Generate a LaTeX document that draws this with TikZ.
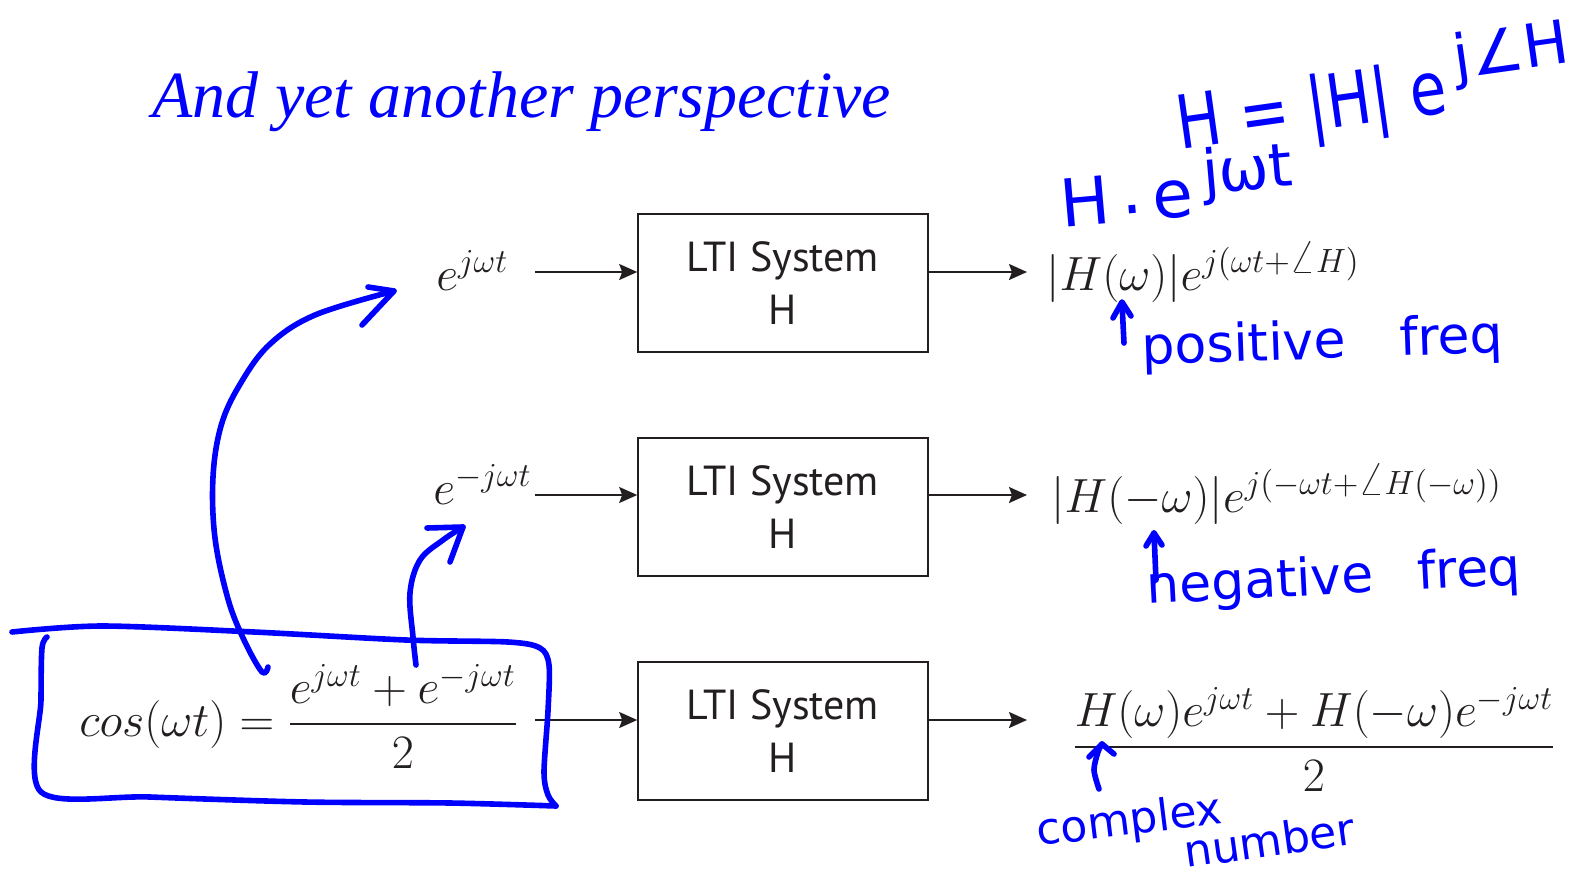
\documentclass[tikz,border=0pt]{standalone}
\usepackage{fix-cm}
\usepackage{amsmath}
\usepackage{fontspec}
\newfontfamily\titlefont{Liberation Serif}
\newfontfamily\ltifont{PT Sans}
\newfontfamily\hand{DejaVu Sans}
\newfontfamily\handc[FakeStretch=0.8]{DejaVu Sans}
\usetikzlibrary{arrows.meta}
\definecolor{ink}{HTML}{231F20}
\definecolor{penblue}{RGB}{0,0,255}
\tikzset{
 ltibox/.style={draw=ink, line width=0.8pt, minimum width=145pt, minimum height=69pt, inner sep=0pt, align=center, font=\ltifont\fontsize{21}{26.5}\selectfont, text=ink},
 arr/.style={draw=ink, line width=0.9pt, -{Stealth[length=9pt,width=8pt,inset=1.5pt]}},
 mathtxt/.style={inner sep=0pt, text=ink, font=\fontsize{24}{29}\selectfont},
 penline/.style={draw=penblue, line width=2.8pt, line cap=round, line join=round},
 handtxt/.style={inner sep=0pt, text=penblue, font=\hand\fontsize{26}{30}\selectfont},
}
\begin{document}
\begin{tikzpicture}[x=0.5pt,y=-0.5pt]
\useasboundingbox (0,0) rectangle (1592,879);
\fill[white] (0,0) rectangle (1592,879);

% title
\node[anchor=base west, inner sep=0pt, text=penblue, font=\titlefont\itshape\fontsize{33}{40}\selectfont] (title) at (152,117) {And yet another perspective};

% boxes
\node[ltibox] (b1) at (783,283) {LTI System\\H};
\node[ltibox] (b2) at (783,507) {LTI System\\H};
\node[ltibox] (b3) at (783,731) {LTI System\\H};

% inputs
\node[mathtxt, anchor=base west] (in1) at (436,290) {$e^{j\omega t}$};
\node[mathtxt, anchor=base west] (in2) at (433,504) {$e^{-j\omega t}$};
\node[mathtxt, anchor=base west] (in3) at (79,736) {$cos(\omega t) = \dfrac{e^{j\omega t}+e^{-j\omega t}}{2}$};

\coordinate (s1) at (535,272);
\coordinate (s2) at (535,495);
\coordinate (s3) at (535,720);
\draw[arr] (s1) -- (s1 -| b1.west);
\draw[arr] (s2) -- (s2 -| b2.west);
\draw[arr] (s3) -- (s3 -| b3.west);

% outputs
\coordinate (t1) at (1027,272);
\coordinate (t2) at (1027,495);
\coordinate (t3) at (1027,720);
\draw[arr] (t1 -| b1.east) -- (t1);
\draw[arr] (t2 -| b2.east) -- (t2);
\draw[arr] (t3 -| b3.east) -- (t3);

\node[mathtxt, anchor=base west] (out1) at (1046,290) {$|H(\omega)|e^{j(\omega t+\angle H)}$};
\node[mathtxt, anchor=base west] (out2) at (1051,512) {$|H(-\omega)|e^{j(-\omega t+\angle H(-\omega))}$};
\node[mathtxt, anchor=base west] (out3) at (1072,759) {$\dfrac{H(\omega)e^{j\omega t}+H(-\omega)e^{-j\omega t}}{2}$};

% hand-drawn box around cos formula
\draw[penline] plot[smooth, tension=0.5] coordinates {(47,637) (42,648) (41,700) (41,792) (150,797) (305,802) (450,803) (556,806)};
\draw[penline] plot[smooth, tension=0.5] coordinates {(12,632) (102,626) (254,632) (406,640) (508,642) (540,648) (549,665) (548,711) (544,772) (548,795) (556,806)};

% long hand arrow
\draw[penline] plot[smooth, tension=0.6] coordinates {(268,667) (262,672) (244,640) (228,599) (215,538) (213,477) (221,426) (239,386) (269,345) (315,315) (394,291)};
\draw[penline] (368,287) -- (394,291) -- (362,325);

% short hand arrow
\draw[penline] plot[smooth, tension=0.6] coordinates {(416,665) (413,637) (410,593) (420,560) (443,540) (463,527)};
\draw[penline] (427,528) -- (463,527) -- (450,562);

% small pointer arrows
\draw[penline] (1124,343) -- (1122,303);
\draw[penline] (1113,318) -- (1122,302) -- (1131,316);
\draw[penline] (1156,580) -- (1154,533);
\draw[penline] (1146,546) -- (1154,533) -- (1162,545);
\draw[penline] plot[smooth] coordinates {(1099,789) (1094,770) (1098,752) (1102,744)};
\draw[penline] (1089,757) -- (1102,744) -- (1114,754);

% handwritten notes
\node[handtxt, anchor=base west, rotate=2] (pos) at (1142,365) {positive\hspace{27pt}freq};
\node[handtxt, anchor=base west, rotate=3] (neg) at (1147,604) {negative\hspace{22pt}freq};
\node[handtxt, anchor=base west, rotate=7, font=\hand\fontsize{22}{26}\selectfont] (cplx) at (1038,846) {complex};
\node[handtxt, anchor=base west, rotate=8, font=\hand\fontsize{22}{26}\selectfont] (numb) at (1186,868) {number};
\node[handtxt, anchor=base west, rotate=8, font=\handc\fontsize{37}{40}\selectfont] (heq) at (1180,150) {H = |H| e\,\raisebox{16pt}{\hand\fontsize{30}{32}\selectfont j∠H}};
\node[handtxt, anchor=base west, rotate=5, font=\hand\fontsize{33}{38}\selectfont] (hejwt) at (1062,228) {H\,\raisebox{4pt}{.}\,e\,\raisebox{11pt}{\fontsize{30}{32}\selectfont jωt}};
\end{tikzpicture}
\end{document}
